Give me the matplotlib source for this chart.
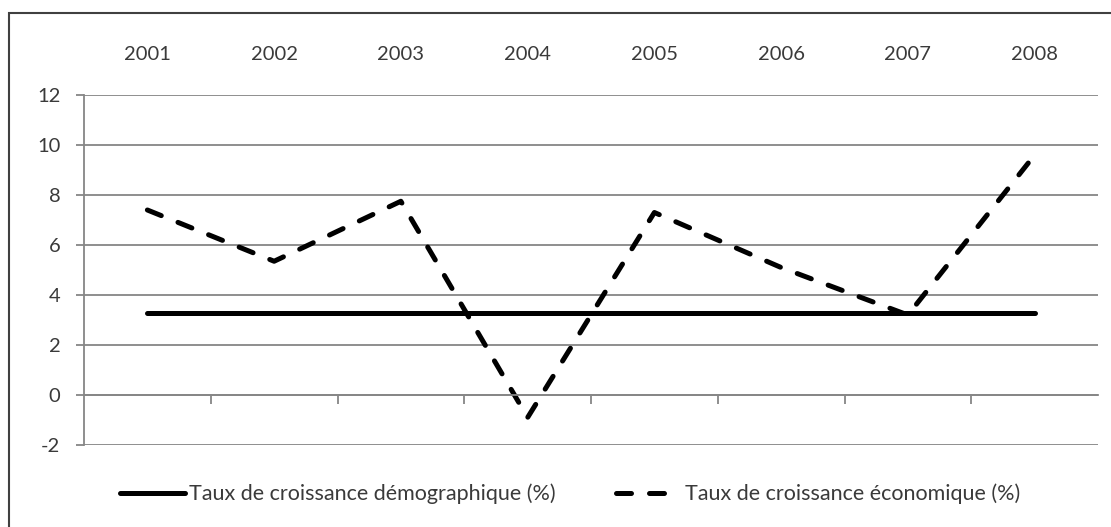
import numpy as np
from matplotlib import pyplot as plt
from matplotlib.patches import Rectangle

years = ['2001', '2002', '2003', '2004', '2005', '2006', '2007', '2008']
demo = [3.3, 3.3, 3.3, 3.3, 3.3, 3.3, 3.3, 3.3]
eco = [7.4, 5.35, 7.75, -0.9, 7.3, 5.1, 3.2, 9.6]
demo_label = 'Taux de croissance démographique (%)'
eco_label = 'Taux de croissance économique (%)'

plt.rcParams['font.family'] = ['Lato', 'DejaVu Sans']
plt.rcParams['font.size'] = 14.5
plt.rcParams['axes.unicode_minus'] = False
grey = '#868686'
txt = '#3a3a3a'

fig = plt.figure(figsize=(11.11, 5.27), dpi=100)
ax = fig.add_axes([84 / 1111, 1 - 445 / 527, 1014 / 1111, 350 / 527])

x = np.arange(len(years))
ax.plot(x, demo, color='black', lw=3.6, solid_capstyle='round', label=demo_label)
ax.plot(x, eco, color='black', lw=3.6, dashes=(3, 3.6), dash_capstyle='round',
        label=eco_label)

ax.set_xlim(-0.5, len(years) - 0.5)
ax.set_ylim(-2, 12)
ax.set_yticks(np.arange(-2, 13, 2))
ax.yaxis.grid(True, color=grey, lw=1.3)
ax.set_axisbelow(True)

for s in ['top', 'right']:
    ax.spines[s].set_visible(False)
ax.spines['left'].set_color(grey)
ax.spines['left'].set_linewidth(1.3)
ax.spines['bottom'].set_color(grey)
ax.spines['bottom'].set_linewidth(1.3)
ax.spines['bottom'].set_position(('data', 0))
ax.set_xticks(np.arange(0.5, len(years) - 1, 1))
ax.tick_params(axis='x', direction='out', length=6.5, width=1.3, color=grey,
               labelbottom=False)
ax.tick_params(axis='y', direction='out', length=6, width=1.3, color=grey, pad=11,
               labelcolor=txt)

top = ax.secondary_xaxis('top')
top.set_xticks(x, years)
top.tick_params(length=0, pad=23, labelcolor=txt)
top.spines['top'].set_visible(False)

fig.legend(loc='center', bbox_to_anchor=(0.513, 1 - 494 / 527), ncol=2, frameon=False,
           fontsize=15.5, handlelength=3.0, handletextpad=0.2, columnspacing=2.8,
           labelcolor=txt)

fig.add_artist(Rectangle((9 / 1111, -0.2), 2, 1.2 - 13 / 527, transform=fig.transFigure,
                         fill=False, ec='#404040', lw=1.5))

fig.savefig('out.png', dpi=100)
